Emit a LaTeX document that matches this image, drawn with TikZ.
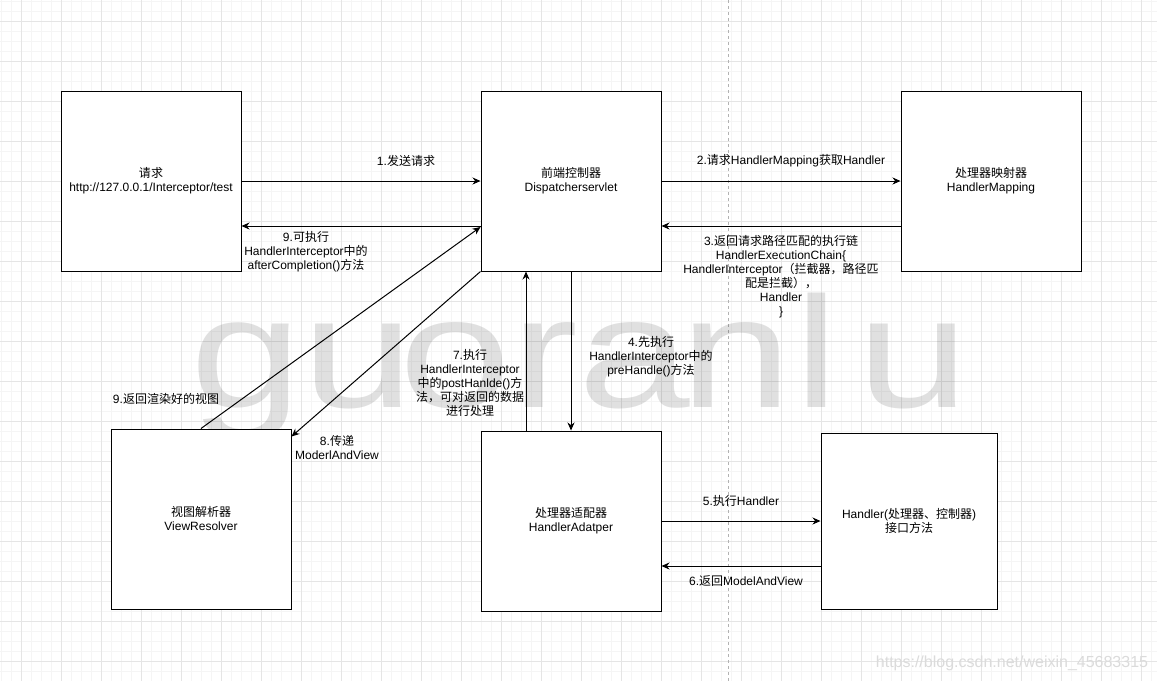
\documentclass[tikz,border=0pt]{standalone}
\usepackage{graphicx}
\usepackage{fontspec}
\setmainfont{Liberation Sans}
\newfontfamily\zhfont{Noto Sans CJK SC}
\usetikzlibrary{arrows.meta}

% Chinese characters are set in the CJK font
\XeTeXinterchartokenstate=1
\newXeTeXintercharclass\zhclass
\newcount\zhcode
\def\setzhrange#1#2{\zhcode=#1 \loop\XeTeXcharclass\zhcode=\zhclass \advance\zhcode by 1 \ifnum\zhcode<#2 \repeat}
\setzhrange{"3000}{"3040}
\setzhrange{"4E00}{"A000}
\setzhrange{"FF00}{"FFF0}
\XeTeXinterchartoks 0 \zhclass = {\begingroup\zhfont}
\XeTeXinterchartoks 4095 \zhclass = {\begingroup\zhfont}
\XeTeXinterchartoks \zhclass 0 = {\endgroup}
\XeTeXinterchartoks \zhclass 4095 = {\endgroup}

\begin{document}
\begin{tikzpicture}[x=1pt,y=-1pt,
        every node/.style={font=\fontsize{12}{14}\selectfont, align=center},
        box/.style={draw, line width=1pt, fill=white, minimum width=180, minimum height=180},
        arr/.style={line width=1pt, -{Stealth[length=8pt,width=7pt]}}]
            \useasboundingbox (0,0) rectangle (1157,681);
            \fill[white] (0,0) rectangle (1157,681);

            % grid
            \foreach \gx in {1,11,...,1151}{
                \draw[black!4] (\gx,0) -- (\gx,681);
            }
            \foreach \gy in {1,11,...,671}{
                \draw[black!4] (0,\gy) -- (1157,\gy);
            }
            \foreach \gx in {21,61,...,1141}{
                \draw[black!10] (\gx,0) -- (\gx,681);
            }
            \foreach \gy in {21,61,...,661}{
                \draw[black!10] (0,\gy) -- (1157,\gy);
            }
            \draw[black!30, dash pattern=on 3pt off 3pt] (728,0) -- (728,681);

            % watermark
            \foreach \ch/\cx in {g/246,u/358,o/455,r/545,a/634,n/736,l/817,u/913}{
                \node (wm\cx) at (\cx,407)[anchor=base, text=black, text opacity=0.12, font=\fontsize{158}{160}\selectfont]{\scalebox{1.27}[1]{\ch}};
            }
            \node (csdn) at (1012,663)[font=\fontsize{16}{18}\selectfont, text=black!14]{https://blog.csdn.net/weixin\_45683315};

            \node (req) at (151,181)[box]{请求\\http://127.0.0.1/Interceptor/test};
            \node (disp) at (571,181)[box]{前端控制器\\Dispatcherservlet};
            \node (hmap) at (991,181)[box]{处理器映射器\\HandlerMapping};
            \node (vres) at (201,519)[box]{视图解析器\\ViewResolver};
            \node (hada) at (571,521)[box]{处理器适配器\\HandlerAdatper};
            \node (hdl) at (909,521)[box, minimum width=176, minimum height=176]{Handler(处理器、控制器)\\接口方法};

            \draw[arr] (req.east) -- (disp.west);
            \draw[arr] ([yshift=-45pt]disp.west) -- ([yshift=-45pt]req.east);
            \draw[arr] (disp.east) -- (hmap.west);
            \draw[arr] ([yshift=-45pt]hmap.west) -- ([yshift=-45pt]disp.east);
            \draw[arr] (disp.south) -- (hada.north);
            \draw[arr] (hada.east) -- (hdl.west);
            \draw[arr] ([yshift=-45pt]hdl.west) -- ([yshift=-45pt]hada.east);
            \draw[arr] ([xshift=-45pt]hada.north) -- ([xshift=-45pt]disp.south);
            \draw[arr] (disp.south west) -- ([yshift=-8pt]vres.north east);
            \draw[arr] (vres.north) -- ([yshift=-46pt]disp.west);

            \node (l1) at (406,161){1.发送请求};
            \node (l9a) at (306,252){9.可执行\\HandlerInterceptor中的\\afterCompletion()方法};
            \node (l2) at (791,161){2.请求HandlerMapping获取Handler};
            \node (l3) at (781,277){3.返回请求路径匹配的执行链\\HandlerExecutionChain\{\\HandlerInterceptor（拦截器，路径匹\\配是拦截），\\Handler\\\}};
            \node (l4) at (651,357){4.先执行\\HandlerInterceptor中的\\preHandle()方法};
            \node (l5) at (741,501){5.执行Handler};
            \node (l6) at (746,581){6.返回ModelAndView};
            \node (l7) at (470,383){7.执行\\HandlerInterceptor\\中的postHanlde()方\\法，可对返回的数据\\进行处理};
            \node (l8) at (337,447){8.传递\\ModerlAndView};
            \node (l9b) at (166,399){9.返回渲染好的视图};
\end{tikzpicture}
\end{document}
